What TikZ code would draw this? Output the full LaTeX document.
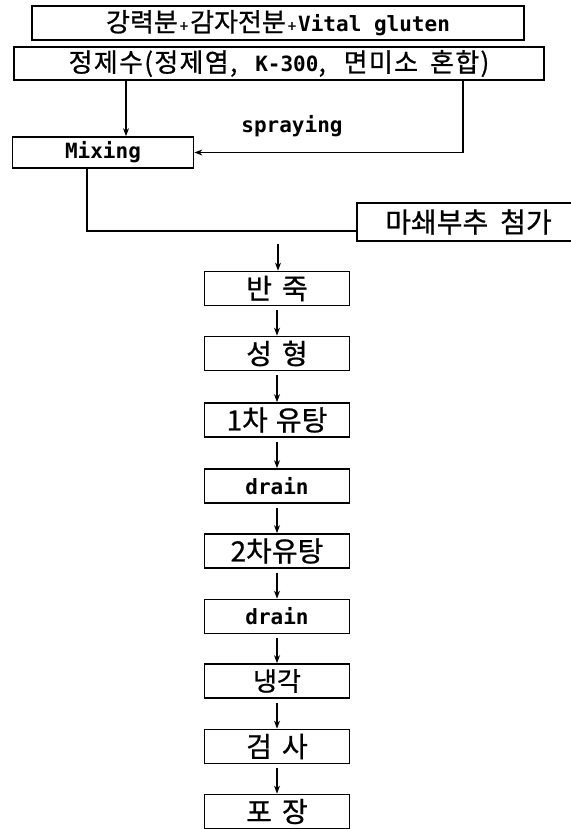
\documentclass[tikz,border=0pt]{standalone}
\usepackage{fontspec}
\setmainfont{Noto Sans CJK KR}[FakeBold=0.8]
\newfontfamily\mono{DejaVu Sans Mono}
\usetikzlibrary{arrows.meta}
\newcommand\latn[1]{{\fontsize{21}{21}\mono\bfseries #1}}
\newcommand\pls{\hspace{2pt}{\fontsize{15}{15}\selectfont +}\hspace{2pt}}
\begin{document}
\begin{tikzpicture}[x=1pt,y=-1pt,
  box/.style={draw, line width=1.7pt, inner sep=0pt, minimum height=33pt,
    font=\fontsize{26}{26}\selectfont},
  flowbox/.style={box, minimum width=145pt, minimum height=34pt,
    font=\fontsize{28}{28}\selectfont},
  conn/.style={line width=1.3pt},
  arr/.style={conn, -{Stealth[length=8pt,width=6pt]}},
  lat/.style={font=\fontsize{21}{21}\mono\bfseries}]
\useasboundingbox (0,0) rectangle (570,829);

\node[box, minimum width=492pt, minimum height=34pt] (b1) at (278,23)
  {강력분\pls 감자전분\pls\latn{Vital gluten}};
\node[box, minimum width=530pt, font=\fontsize{26}{26}\selectfont\addfontfeature{LetterSpace=5}] (b2) at (279,63.5)
  {정제수(정제염,\hspace{18pt}\latn{K-300},\hspace{18pt}면미소\hspace{12pt}혼합)};
\node[box, minimum width=181pt, minimum height=31pt, lat] (mix) at (103,152.5) {Mixing};
\node[lat, inner sep=0pt] (spr) at (292,126) {spraying};
\node[box, minimum width=223pt, minimum height=38pt, font=\fontsize{28}{28}\selectfont] (mash) at (468.5,222)
  {마쇄부추\hspace{12pt}첨가\hspace{14pt}};

\node[flowbox] (f1) at (277,288.5) {반\hspace{10pt}죽};
\node[flowbox] (f2) at (277,353.5) {성\hspace{10pt}형};
\node[flowbox] (f3) at (277,420) {1차\hspace{8pt}유탕};
\node[flowbox, lat] (f4) at (277,486) {drain};
\node[flowbox] (f5) at (277,551) {2차유탕};
\node[flowbox, lat] (f6) at (277,616.5) {drain};
\node[flowbox, font=\fontsize{26}{26}\selectfont] (f7) at (277,681) {냉각};
\node[flowbox] (f8) at (277,746.5) {검\hspace{10pt}사};
\node[flowbox] (f9) at (277,811.5) {포\hspace{10pt}장};

\coordinate (t0) at (278,244);

\draw[arr] (b2.south -| 126,0) -- (mix.north -| 126,0);
\draw[arr] (b2.south -| 463,0) |- (mix.east);
\draw[conn] (mix.south -| 87,0) |- ([yshift=-9pt]mash.west);

\draw[arr] (t0) -- (f1.north -| t0);
\foreach \a/\b in {f1/f2,f2/f3,f3/f4,f4/f5,f5/f6,f6/f7,f7/f8,f8/f9}
  \draw[arr, shorten <=4pt] (\a.south) -- (\b.north);
\end{tikzpicture}
\end{document}
